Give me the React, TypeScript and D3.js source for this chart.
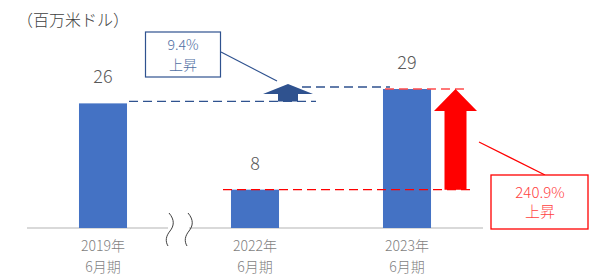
import React from 'react';
import * as d3 from 'd3';

// Chart data
const categories = ['2019年6月期', '2022年6月期', '2023年6月期'];
const yearLabels = ['2019年', '2022年', '2023年'];
const periodLabels = ['6月期', '6月期', '6月期'];
const values = [26, 8, 29];
const growthLabels = ['9.4%', '240.9%'];
const unitLabel = '（百万米ドル）';

const W = 594;
const H = 274;
const FONT = '"Noto Sans CJK JP", "Noto Sans", sans-serif';

export default function App() {
  const x = d3.scaleBand<string>()
    .domain(categories)
    .range([27, 483])
    .paddingInner(0.684)
    .paddingOuter(0.342);
  const y = d3.scaleLinear().domain([0, 29]).range([228, 89]);

  const cx = (i: number) => (x(categories[i]) as number) + x.bandwidth() / 2;
  const bw = x.bandwidth();

  // squiggle break marks
  const squiggle = (sx: number) =>
    `M${sx + 1},${y(0) - 15} C${sx + 7},${y(0) - 8} ${sx + 6},${y(0) - 2} ${sx + 2},${y(0) + 3} C${sx - 2},${y(0) + 8} ${sx - 3},${y(0) + 13} ${sx},${y(0) + 18}`;

  // navy arrow (2019 -> 2023)
  const nx = 288;
  const nBase = y(values[0]) - 2;
  const nTip = y(values[2]) - 5;
  const nHead = nTip + 10;
  const navyArrow = d3.path();
  navyArrow.moveTo(nx - 10, nBase);
  navyArrow.lineTo(nx - 10, nHead);
  navyArrow.lineTo(nx - 25, nHead);
  navyArrow.lineTo(nx, nTip);
  navyArrow.lineTo(nx + 25, nHead);
  navyArrow.lineTo(nx + 10, nHead);
  navyArrow.lineTo(nx + 10, nBase);
  navyArrow.closePath();

  // red arrow (2022 -> 2023)
  const rx = 455.5;
  const rBase = y(values[1]);
  const rTip = y(values[2]);
  const rHead = rTip + 22;
  const redArrow = d3.path();
  redArrow.moveTo(rx - 11, rBase);
  redArrow.lineTo(rx - 11, rHead);
  redArrow.lineTo(rx - 21.5, rHead);
  redArrow.lineTo(rx, rTip);
  redArrow.lineTo(rx + 21.5, rHead);
  redArrow.lineTo(rx + 11, rHead);
  redArrow.lineTo(rx + 11, rBase);
  redArrow.closePath();

  return (
    <svg width={W} height={H} style={{ position: 'absolute', left: 0, top: 0 }} fontFamily={FONT} fontWeight={300}>
      <rect width={W} height={H} fill="#fff" />
      <text x={17} y={26} fontSize={16} fill="#404040">{unitLabel}</text>

      {/* axis with break */}
      <line x1={27} x2={168} y1={y(0)} y2={y(0)} stroke="#d9d9d9" strokeWidth={2} />
      <line x1={189} x2={483} y1={y(0)} y2={y(0)} stroke="#d9d9d9" strokeWidth={2} />
      <path d={squiggle(168)} fill="none" stroke="#404040" strokeWidth={1} />
      <path d={squiggle(187)} fill="none" stroke="#404040" strokeWidth={1} />

      {/* bars */}
      {values.map((v, i) => (
        <rect key={i} x={x(categories[i])} y={y(v)} width={bw} height={y(0) - y(v)} fill="#4472c4" />
      ))}
      {values.map((v, i) => (
        <text key={'v' + i} x={cx(i)} y={y(v) - 20} fontSize={18} fill="#595959" textAnchor="middle">{v}</text>
      ))}
      {categories.map((c, i) => (
        <g key={c} fill="#7f7f7f" fontSize={14} textAnchor="middle">
          <text x={cx(i)} y={251}>{yearLabels[i]}</text>
          <text x={cx(i)} y={271.5}>{periodLabels[i]}</text>
        </g>
      ))}

      {/* navy dashed guides */}
      <line x1={cx(0) + bw / 2 + 2} x2={316} y1={nBase} y2={nBase} stroke="#2f528f" strokeWidth={1.4} strokeDasharray="9 5" />
      <line x1={302} x2={cx(2) - bw / 2 + 7} y1={y(values[2]) - 2} y2={y(values[2]) - 2} stroke="#2f528f" strokeWidth={1.4} strokeDasharray="9 5" />
      <path d={navyArrow.toString()} fill="#2f528f" />

      {/* red dashed guides */}
      <line x1={cx(2) - bw / 2 + 2} x2={466} y1={y(values[2])} y2={y(values[2])} stroke="#ff4b4b" strokeWidth={1.4} strokeDasharray="9 5" />
      <line x1={223} x2={472} y1={y(values[1])} y2={y(values[1])} stroke="#ff0000" strokeWidth={1.3} strokeDasharray="9 5" />
      <path d={redArrow.toString()} fill="#ff0000" />

      {/* navy callout */}
      <line x1={221} y1={52} x2={277} y2={81} stroke="#2f528f" strokeWidth={1.2} />
      <rect x={145.5} y={32} width={75} height={45} fill="#fff" stroke="#2f528f" strokeWidth={1.2} />
      <text x={183} y={50} fontSize={14} fill="#4f6fa3" textAnchor="middle">{growthLabels[0]}</text>
      <text x={183} y={70} fontSize={14} fill="#4f6fa3" textAnchor="middle">上昇</text>

      {/* red callout */}
      <line x1={479} y1={142} x2={545} y2={175} stroke="#ff0000" strokeWidth={1.2} />
      <rect x={491} y={175} width={97} height={54} fill="#fff" stroke="#ff0000" strokeWidth={1.3} />
      <text x={540} y={198} fontSize={15} fill="#ff3f3f" textAnchor="middle">{growthLabels[1]}</text>
      <text x={540} y={217} fontSize={15} fill="#ff3f3f" textAnchor="middle">上昇</text>
    </svg>
  );
}
